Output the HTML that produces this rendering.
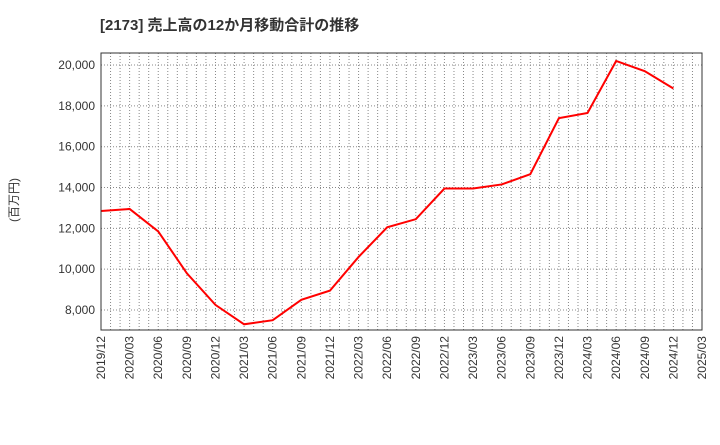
<!DOCTYPE html>
<html><head><meta charset="utf-8"><style>
body{margin:0;background:#fff;}
svg text{font-family:"Liberation Sans","Noto Sans CJK JP",sans-serif;}
</style></head><body>
<svg id="c" width="720" height="440" xmlns="http://www.w3.org/2000/svg">
<text x="100" y="30" font-size="15" font-weight="bold" fill="#333">[2173]  売上高の12か月移動合計の推移</text>
<text transform="translate(18,200) rotate(-90)" font-size="12" fill="#333" text-anchor="middle">(百万円)</text>
<g id="grid"></g><g id="ax"></g><g id="ser"></g>
<rect x="101" y="53" width="601" height="277" fill="none" stroke="#333" stroke-width="1"/>
</svg>
<script>
const categories=["2019/12","2020/03","2020/06","2020/09","2020/12","2021/03","2021/06","2021/09","2021/12","2022/03","2022/06","2022/09","2022/12","2023/03","2023/06","2023/09","2023/12","2024/03","2024/06","2024/09","2024/12","2025/03"];
const sales=[12850,12950,11850,9800,8250,7300,7500,8500,8950,10600,12050,12450,13950,13950,14150,14650,17400,17650,20200,19700,18850];
const yTicks=[8000,10000,12000,14000,16000,18000,20000];
const tickLabels=["8,000","10,000","12,000","14,000","16,000","18,000","20,000"];
const L=101,R=702,T=53,B=330,yMin=7020,yMax=20590;
const NS="http://www.w3.org/2000/svg";
const x=i=>L+(R-L)*i/(categories.length-1);
const y=v=>B-(v-yMin)/(yMax-yMin)*(B-T);
function mk(tag,attrs,parent,text){const e=document.createElementNS(NS,tag);for(const k in attrs)e.setAttribute(k,attrs[k]);if(text!==undefined)e.textContent=text;document.getElementById(parent).appendChild(e);return e;}
for(let m=1;m<(categories.length-1)*3;m++){const xx=L+(R-L)*m/((categories.length-1)*3);
const g=mk("line",{x1:xx,x2:xx,y1:T,y2:B,stroke:"#888","stroke-width":1,"stroke-dasharray":"1,2"},"grid");

}
yTicks.forEach((v,i)=>{const g=mk("line",{x1:L,x2:R,y1:y(v),y2:y(v),stroke:"#888","stroke-width":1,"stroke-dasharray":"1,2"},"grid");


const t=mk("text",{x:L-6,y:y(v)+4,"font-size":12,fill:"#333","text-anchor":"end"},"ax",tickLabels[i]);

});
categories.forEach((c,i)=>{const t=mk("text",{transform:`translate(${x(i)+4},${B+6}) rotate(-90)`,"font-size":12,fill:"#333","text-anchor":"end"},"ax",c);

});
const p=mk("polyline",{points:sales.map((v,i)=>x(i)+","+y(v)).join(" "),fill:"none",stroke:"#f00","stroke-width":2},"ser");


</script>
</body></html>
